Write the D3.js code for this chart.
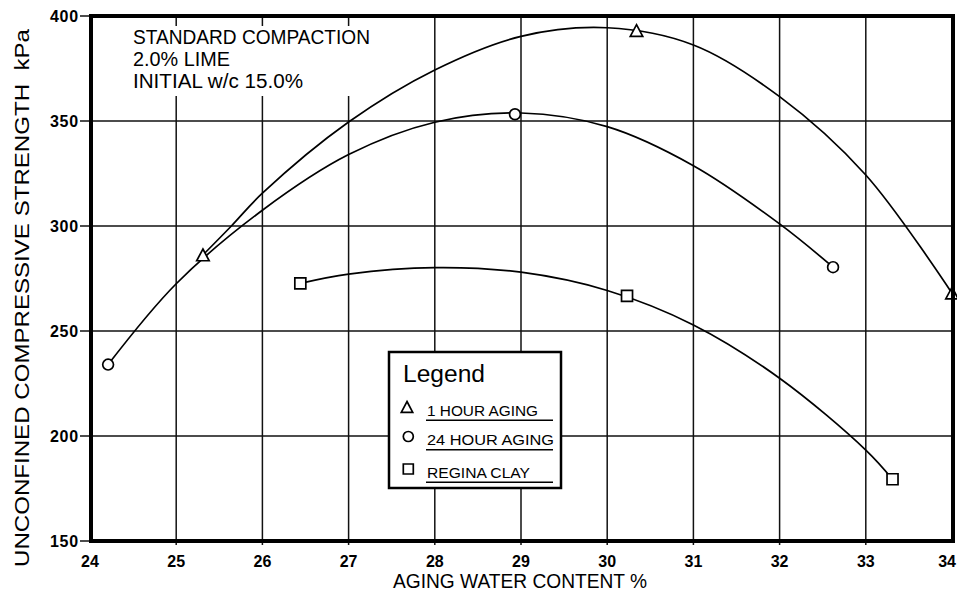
<!DOCTYPE html>
<html>
<head>
<meta charset="utf-8">
<script src="https://cdn.jsdelivr.net/npm/d3@7/dist/d3.min.js"></script>
<style>
  html, body { margin: 0; padding: 0; background: #fff; }
  svg { display: block; }
  text { font-family: "Liberation Sans", Arial, sans-serif; fill: #000; }
</style>
</head>
<body>
<svg id="chart" width="957" height="593"></svg>
<script>
// Axis ticks
const xTicks = [24, 25, 26, 27, 28, 29, 30, 31, 32, 33, 34];
const yTicks = [150, 200, 250, 300, 350, 400];

// Test points: [aging water content %, strength kPa]
const hour1Points  = [[25.31, 286.2], [30.34, 393.0], [34.0, 268.0]];
const hour24Points = [[24.21, 234.0], [28.93, 353.2], [32.62, 280.4]];
const reginaPoints = [[26.44, 272.7], [30.23, 266.7], [33.31, 179.4]];

// Hand-fitted trend curves through each series
const hour1Curve  = [[25.31, 286.2], [25.64, 300], [26, 315.6], [27, 349.5], [28, 374.3], [29, 390.3],
                     [30, 394.4], [31, 386.2], [32, 361.6], [33, 324.3], [34, 268.0]];
const hour24Curve = [[24.21, 234.0], [25, 272.5], [26, 307.5], [27, 334.0], [28, 349.4], [29, 353.8],
                     [30, 347.3], [31, 328.7], [32, 301.0], [32.62, 280.4]];
const reginaCurve = [[26.44, 272.7], [27, 277.1], [28, 280.2], [29, 278.0], [30, 269.3], [31, 252.9],
                     [32, 227.5], [33, 193.3], [33.31, 179.4]];

// Notes and legend text
const noteLines = ["STANDARD COMPACTION", "2.0% LIME", "INITIAL w/c 15.0%"];
const legendLabels = ["1 HOUR AGING", "24 HOUR AGING", "REGINA CLAY"];

const svg = d3.select("#chart");
const x = d3.scaleLinear().domain([24, 34]).range([90, 952]);
const y = d3.scaleLinear().domain([150, 400]).range([541, 16]);

// Grid
const grid = svg.append("g").attr("stroke", "#111").attr("stroke-width", 1.5);
grid.selectAll(".vg").data(xTicks.slice(1, -1)).join("line")
  .attr("x1", d => x(d)).attr("x2", d => x(d)).attr("y1", y(400)).attr("y2", y(150) + 4);
grid.selectAll(".hg").data(yTicks.slice(1, -1)).join("line")
  .attr("x1", x(24) - 10).attr("x2", x(34)).attr("y1", d => y(d)).attr("y2", d => y(d));
// outer ticks on the value axis
grid.selectAll(".yt").data([150, 400]).join("line")
  .attr("x1", x(24) - 10).attr("x2", x(24)).attr("y1", d => y(d)).attr("y2", d => y(d));

// Note block (white backing interrupts the grid)
svg.append("rect").attr("x", 128).attr("y", 26).attr("width", 250).attr("height", 70).attr("fill", "#fff");
const noteLen = [237, 97, 170];
svg.append("g").selectAll("text").data(noteLines).join("text")
  .attr("x", 133).attr("y", (d, i) => 44.3 + i * 22)
  .attr("font-size", 20)
  .attr("textLength", (d, i) => noteLen[i]).attr("lengthAdjust", "spacingAndGlyphs")
  .text(d => d);

// Curves
const line = d3.line().x(d => x(d[0])).y(d => y(d[1])).curve(d3.curveCatmullRom.alpha(0.5));
const curves = svg.append("g").attr("fill", "none").attr("stroke", "#000").attr("stroke-width", 1.7);
[hour1Curve, hour24Curve, reginaCurve].forEach(c => curves.append("path").attr("d", line(c)));

// Marker shapes
function triPath(s) { return `M0,${-s * 0.5}L${s * 0.52},${s * 0.48}L${-s * 0.52},${s * 0.48}Z`; }
function sqPath(s) { const h = s / 2; return `M${-h},${-h}H${h}V${h}H${-h}Z`; }
const markers = svg.append("g").attr("fill", "#fff").attr("stroke", "#000").attr("stroke-width", 1.7);
markers.selectAll(".tri").data(hour1Points).join("path")
  .attr("transform", d => `translate(${x(d[0])},${y(d[1])})`).attr("d", triPath(12));
markers.selectAll(".cir").data(hour24Points).join("circle")
  .attr("cx", d => x(d[0])).attr("cy", d => y(d[1])).attr("r", 5.4);
markers.selectAll(".sq").data(reginaPoints).join("path")
  .attr("transform", d => `translate(${x(d[0])},${y(d[1])})`).attr("d", sqPath(11));

// Legend
const lg = svg.append("g").attr("transform", "translate(389,352)");
lg.append("rect").attr("width", 172).attr("height", 136)
  .attr("fill", "#fff").attr("stroke", "#000").attr("stroke-width", 2.5);
lg.append("text").attr("x", 14).attr("y", 29.5).attr("font-size", 23)
  .attr("textLength", 82).attr("lengthAdjust", "spacingAndGlyphs").text("Legend");
const rowY = [60, 89.5, 122];
const legendShapes = [triPath(11), null, sqPath(10)];
const legendLen = [111, 127, 103];
legendLabels.forEach((lab, i) => {
  const ry = rowY[i];
  if (i === 1) {
    lg.append("circle").attr("cx", 19.3).attr("cy", ry - 5).attr("r", 5)
      .attr("fill", "#fff").attr("stroke", "#000").attr("stroke-width", 1.7);
  } else {
    lg.append("path").attr("transform", `translate(${i === 0 ? 18 : 19.3},${ry - 5})`)
      .attr("d", legendShapes[i]).attr("fill", "#fff").attr("stroke", "#000").attr("stroke-width", 1.7);
  }
  lg.append("text").attr("x", 38).attr("y", ry + 3.7).attr("font-size", 15.5)
    .attr("textLength", legendLen[i]).attr("lengthAdjust", "spacingAndGlyphs").text(lab);
  lg.append("line").attr("x1", 37).attr("x2", 164).attr("y1", ry + 8.3).attr("y2", ry + 8.3)
    .attr("stroke", "#000").attr("stroke-width", 1.6);
});

// Frame
svg.append("rect").attr("x", x(24) + 1).attr("y", y(400)).attr("width", x(34) - x(24)).attr("height", y(150) - y(400))
  .attr("fill", "none").attr("stroke", "#000").attr("stroke-width", 4);

// Tick labels (the last one is kept inside the page edge)
svg.append("g").selectAll("text").data(xTicks).join("text")
  .attr("x", d => d === 34 ? 956 : x(d)).attr("y", 566.5)
  .attr("text-anchor", d => d === 34 ? "end" : "middle")
  .attr("font-size", 16).attr("font-weight", "bold").text(d => d);
svg.append("g").selectAll("text").data(yTicks).join("text")
  .attr("x", 79).attr("y", d => y(d) + 6).attr("text-anchor", "end")
  .attr("font-size", 16).attr("font-weight", "bold").attr("letter-spacing", 0.8).text(d => d);

// Axis titles
svg.append("text").attr("x", 393).attr("y", 588).attr("font-size", 20)
  .attr("textLength", 254).attr("lengthAdjust", "spacingAndGlyphs").text("AGING WATER CONTENT %");
svg.append("text").attr("transform", "translate(29,567) rotate(-90)").attr("font-size", 21)
  .attr("textLength", 538).attr("lengthAdjust", "spacingAndGlyphs")
  .attr("xml:space", "preserve").style("white-space", "pre")
  .text("UNCONFINED COMPRESSIVE STRENGTH  kPa");
</script>
</body>
</html>
